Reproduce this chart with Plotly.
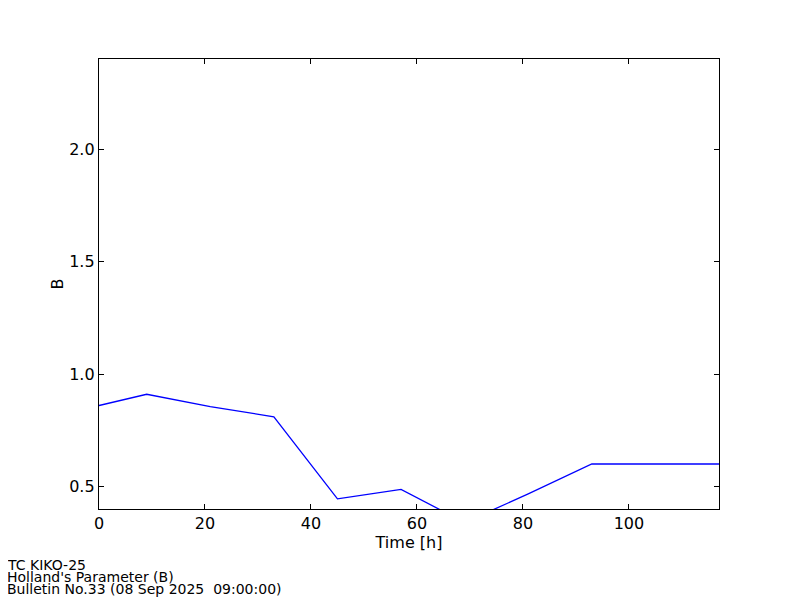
import plotly.graph_objects as go

time_h = [0, 9, 21, 33, 45, 57, 69, 81, 93, 105, 117]
b_param = [0.86, 0.91, 0.855, 0.81, 0.445, 0.487, 0.34, 0.467, 0.60, 0.60, 0.60]
x_ticks = [0, 20, 40, 60, 80, 100]
y_ticks = [0.5, 1.0, 1.5, 2.0]
footer_lines = ["TC KIKO-25", "Holland's Parameter (B)", "Bulletin No.33 (08 Sep 2025\u00a0\u00a009:00:00)"]

fig = go.Figure()
fig.add_trace(go.Scatter(x=time_h, y=b_param, mode="lines",
                         line=dict(color="#0000ff", width=1.3), showlegend=False))

font = "DejaVu Sans, sans-serif"
axis_common = dict(showline=True, linecolor="black", linewidth=1.3, mirror="ticks",
                   ticks="inside", ticklen=5, tickcolor="black", tickwidth=1,
                   showgrid=False, zeroline=False,
                   tickfont=dict(family=font, size=16, color="black"))
fig.update_xaxes(range=[0, 117], tickvals=x_ticks, title=dict(text="Time [h]", font=dict(family=font, size=16, color="black"), standoff=0), **axis_common)
fig.update_yaxes(range=[0.4, 2.4], tickvals=y_ticks, tickformat=".1f", title=dict(text="B", font=dict(family=font, size=16, color="black"), standoff=1), **axis_common)

for i, t in enumerate(footer_lines):
    fig.add_annotation(text=t, xref="paper", yref="paper", x=-93/620, y=(509 - 565 - 12 * i) / 450,
                       xanchor="left", yanchor="middle", showarrow=False, borderpad=0,
                       font=dict(family=font, size=14, color="black"))

fig.update_layout(width=800, height=600, margin=dict(l=91, r=89, t=51, b=99),
                  plot_bgcolor="white", paper_bgcolor="white", font=dict(family=font))
fig.write_html("out.html")
